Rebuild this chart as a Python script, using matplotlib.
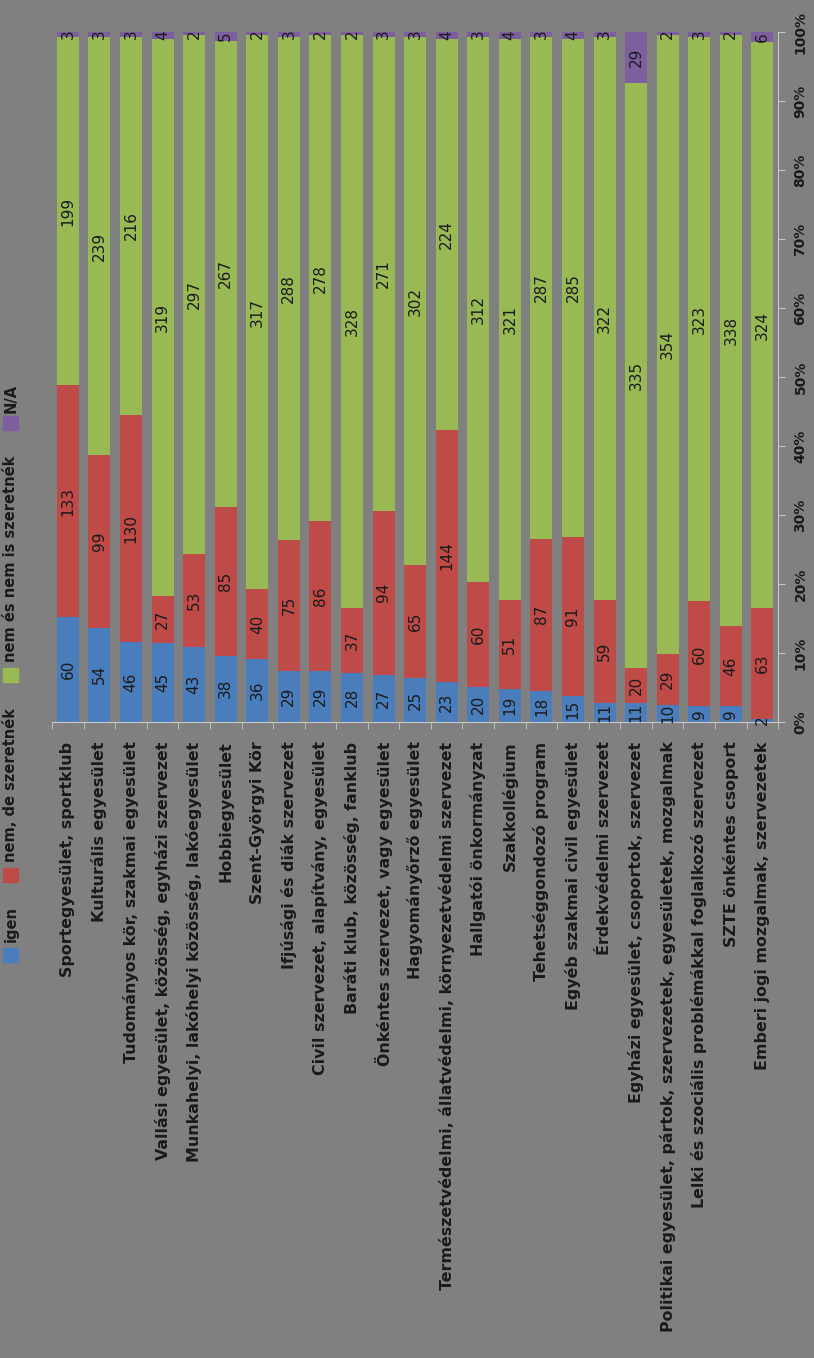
import matplotlib.pyplot as plt
import matplotlib.patches as mpatches
import numpy as np

kategoriak = [
    "Sportegyesület, sportklub",
    "Kulturális egyesület",
    "Tudományos kör, szakmai egyesület",
    "Vallási egyesület, közösség, egyházi szervezet",
    "Munkahelyi, lakóhelyi közösség, lakóegyesület",
    "Hobbiegyesület",
    "Szent-Györgyi Kör",
    "Ifjúsági és diák szervezet",
    "Civil szervezet, alapítvány, egyesület",
    "Baráti klub, közösség, fanklub",
    "Önkéntes szervezet, vagy egyesület",
    "Hagyományőrző egyesület",
    "Természetvédelmi, állatvédelmi, környezetvédelmi szervezet",
    "Hallgatói önkormányzat",
    "Szakkollégium",
    "Tehetséggondozó program",
    "Egyéb szakmai civil egyesület",
    "Érdekvédelmi szervezet",
    "Egyházi egyesület, csoportok, szervezet",
    "Politikai egyesület, pártok, szervezetek, egyesületek, mozgalmak",
    "Lelki és szociális problémákkal foglalkozó szervezet",
    "SZTE önkéntes csoport",
    "Emberi jogi mozgalmak, szervezetek",
]

igen = [60, 54, 46, 45, 43, 38, 36, 29, 29, 28, 27, 25, 23, 20, 19, 18, 15, 11, 11, 10, 9, 9, 2]
nem_de = [133, 99, 130, 27, 53, 85, 40, 75, 86, 37, 94, 65, 144, 60, 51, 87, 91, 59, 20, 29, 60, 46, 63]
nem_nem = [199, 239, 216, 319, 297, 267, 317, 288, 278, 328, 271, 302, 224, 312, 321, 287, 285, 322, 335, 354, 323, 338, 324]
na = [3, 3, 3, 4, 2, 5, 2, 3, 2, 2, 3, 3, 4, 3, 4, 3, 4, 3, 29, 2, 3, 2, 6]

sorozat_nevek = ["igen", "nem, de szeretnék", "nem és nem is szeretnék", "N/A"]
szinek = ["#4a7dbb", "#be4b48", "#98b954", "#7d5fa0"]

bg = "#808080"
szoveg = "#1a1a1a"

fig = plt.figure(figsize=(8.14, 13.58), dpi=100, facecolor=bg)
ax = fig.add_axes([0.064, 1 - 722 / 1358, 0.892, (722 - 32) / 1358])
ax.set_facecolor(bg)

adat = np.array([igen, nem_de, nem_nem, na], dtype=float)
osszeg = adat.sum(axis=0)
arany = adat / osszeg * 100
x = np.arange(len(kategoriak))
alj = np.zeros(len(kategoriak))
for i in range(4):
    ax.bar(x, arany[i], 0.7, bottom=alj, color=szinek[i], edgecolor="none")
    for j in range(len(kategoriak)):
        ax.text(x[j], alj[j] + arany[i][j] / 2, str(int(adat[i][j])),
                rotation=90, ha="center", va="center", fontsize=11,
                color=szoveg, clip_on=False)
    alj += arany[i]

ax.set_xlim(-0.5, len(kategoriak) - 0.5)
ax.set_ylim(0, 100)
ax.set_xticks(x)
ax.set_xticklabels(kategoriak, rotation=90, ha="center", va="top",
                   fontsize=11.4, fontweight="bold", color=szoveg)
ax.set_xticks(np.arange(-0.5, len(kategoriak)), minor=True)
ax.tick_params(axis="x", which="major", length=0, pad=14)
ax.tick_params(axis="x", which="minor", length=5, color="#c8c8c8", direction="out")

ax.yaxis.tick_right()
ax.set_yticks(np.arange(0, 101, 10))
ax.set_yticklabels([f"{v}%" for v in range(0, 101, 10)], rotation=90,
                   va="center", fontsize=10, fontweight="bold", color=szoveg)
ax.tick_params(axis="y", length=5, color="#c8c8c8", pad=6)

for s in ["top", "left"]:
    ax.spines[s].set_visible(False)
ax.spines["bottom"].set_color("#c8c8c8")
ax.spines["right"].set_color("#c8c8c8")

# jelmagyarázat, elforgatva
jm = [(962, 942), (882, 862), (682, 662), (430, 413)]
for (neg_y, szoveg_y), nev, szin in zip(jm, sorozat_nevek, szinek):
    fig.patches.append(mpatches.Rectangle((3 / 814, 1 - neg_y / 1358), 15 / 814, 14 / 1358,
                                          transform=fig.transFigure, color=szin))
    fig.text(11 / 814, 1 - szoveg_y / 1358, nev, rotation=90, ha="center", va="bottom",
             fontsize=10.5, fontweight="bold", color=szoveg)

fig.savefig("out.png", dpi=100, facecolor=bg)
